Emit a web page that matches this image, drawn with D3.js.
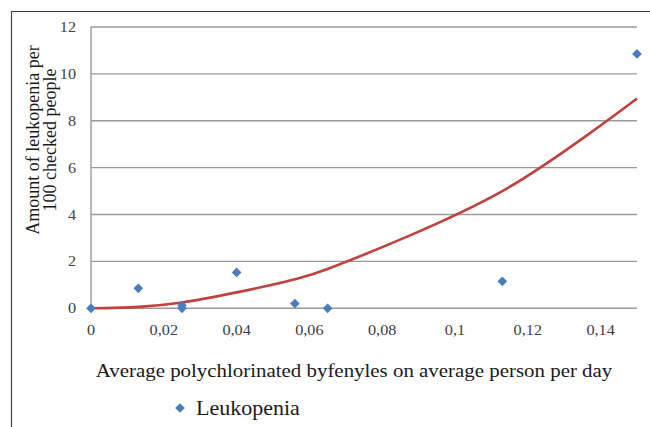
<!DOCTYPE html>
<html><head><meta charset="utf-8">
<script src="https://cdn.jsdelivr.net/npm/d3@7"></script>
<style>body{margin:0;background:#fff}svg{display:block}</style>
</head><body><svg id="c" width="650" height="427"></svg>
<script>
const xTicks = [0, 0.02, 0.04, 0.06, 0.08, 0.1, 0.12, 0.14];
const yTicks = [0, 2, 4, 6, 8, 10, 12];
const pointX = [0, 0.013, 0.025, 0.025, 0.04, 0.056, 0.065, 0.113, 0.15];
const pointY = [0, 0.85, 0, 0.13, 1.53, 0.2, 0, 1.15, 10.85];
const curveX = [0, 0.013, 0.025, 0.04, 0.056, 0.065, 0.113, 0.15];
const curveY = [0, 0.06, 0.25, 0.68, 1.24, 1.68, 5.0, 8.95];
const seriesName = "Leukopenia";
const xTitle = "Average polychlorinated byfenyles on average person per day";
const yTitle = ["Amount of leukopenia per", "100 checked people"];

const svg = d3.select("#c");
const x = d3.scaleLinear().domain([0, 0.15]).range([91, 637]);
const y = d3.scaleLinear().domain([0, 12]).range([308.3, 27]);
const serif = "'Liberation Serif','Times New Roman',serif";
const fmt = d => String(d).replace(".", ",");
const SX = 1.12; // horizontal stretch seen in the reference text

// outer frame
svg.append("line").attr("x1", 11).attr("x2", 650).attr("y1", 11.5).attr("y2", 11.5).attr("stroke", "#333").attr("stroke-width", 1.2);
svg.append("line").attr("x1", 11.5).attr("x2", 11.5).attr("y1", 11).attr("y2", 427).attr("stroke", "#444").attr("stroke-width", 1.2);

// gridlines
svg.append("g").selectAll("line").data(yTicks).join("line")
  .attr("x1", x(0)).attr("x2", x(0.15)).attr("y1", d => y(d)).attr("y2", d => y(d))
  .attr("stroke", "#9a9a9a").attr("stroke-width", 1.4);
// y axis line
svg.append("line").attr("x1", x(0)).attr("x2", x(0)).attr("y1", y(12)).attr("y2", y(0))
  .attr("stroke", "#9a9a9a").attr("stroke-width", 1.4);

// y tick labels
svg.append("g").selectAll("text").data(yTicks).join("text")
  .attr("transform", d => `translate(76,${y(d)}) scale(${SX},1)`)
  .attr("dy", "0.35em").attr("text-anchor", "end")
  .attr("font-family", serif).attr("font-size", 14.5).attr("fill", "#404040").text(d => d);
// x tick labels
svg.append("g").selectAll("text").data(xTicks).join("text")
  .attr("transform", d => `translate(${x(d)},329.5) scale(${SX},1)`)
  .attr("dy", "0.35em").attr("text-anchor", "middle")
  .attr("font-family", serif).attr("font-size", 14.5).attr("fill", "#404040").text(fmt);

// titles
svg.append("text").attr("transform", `translate(354,370) scale(1.1,1)`).attr("dy", "0.35em").attr("text-anchor", "middle")
  .attr("font-family", serif).attr("font-size", 19).attr("fill", "#1a1a1a").text(xTitle);
const yt = svg.append("text").attr("transform", "translate(32.5,140) rotate(-90)")
  .attr("text-anchor", "middle").attr("font-family", serif).attr("font-size", 18).attr("fill", "#1a1a1a");
yTitle.forEach((t, i) => yt.append("tspan").attr("x", 0).attr("y", i * 17).attr("dy", "0.35em").text(t));

// curve
const cdata = curveX.map((v, i) => [v, curveY[i]]);
svg.append("path").datum(cdata)
  .attr("d", d3.line().x(d => x(d[0])).y(d => y(d[1])).curve(d3.curveCatmullRom.alpha(0.5)))
  .attr("fill", "none").attr("stroke", "#c0413d").attr("stroke-width", 2.6);

// points
const diamond = d3.symbol().type(d3.symbolDiamond2).size(60);
const pdata = pointX.map((v, i) => [v, pointY[i]]);
svg.append("g").selectAll("path").data(pdata).join("path")
  .attr("transform", d => `translate(${x(d[0])},${y(d[1])})`)
  .attr("d", diamond).attr("fill", "#4a7ebb");

// legend
svg.append("path").attr("transform", "translate(180,408)").attr("d", diamond).attr("fill", "#4a7ebb");
svg.append("text").attr("transform", "translate(196,408) scale(1.1,1)").attr("dy", "0.35em")
  .attr("font-family", serif).attr("font-size", 20).attr("fill", "#1a1a1a").text(seriesName);
</script></body></html>
